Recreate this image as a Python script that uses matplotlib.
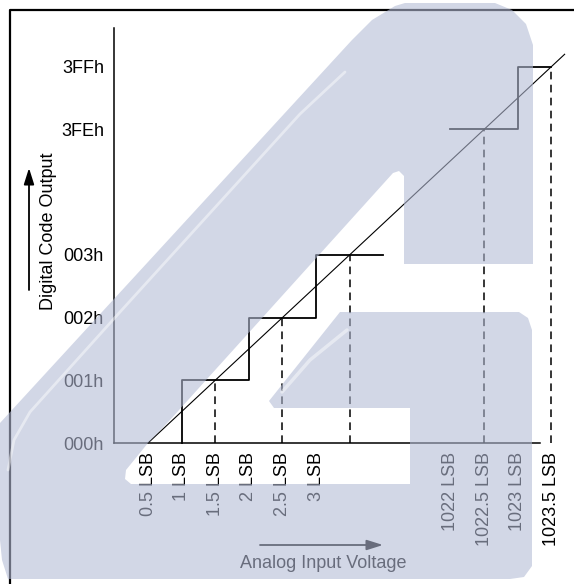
import matplotlib
matplotlib.use("Agg")
from matplotlib import pyplot as plt
from matplotlib.patches import Polygon
import numpy as np

plt.rcParams['font.family'] = ['Liberation Sans', 'DejaVu Sans']
plt.rcParams['font.size'] = 13

# transfer function data (LSB in, code out)
low_step_x = [1, 1, 2, 2, 3, 3, 4]
low_step_y = [0, 1, 1, 2, 2, 3, 3]
high_step_x = [1022, 1023, 1023, 1023.5]
high_step_y = [1022, 1022, 1023, 1023]
ideal_x = [0.5, 1023.7]
ideal_y = [0, 1023.2]
mid_x = [1.5, 2.5, 3.5, 1022.5, 1023.5]
mid_y = [1, 2, 3, 1022, 1023]
xticks = [0.5, 1, 1.5, 2, 2.5, 3, 1022, 1022.5, 1023, 1023.5]
yticks = [0, 1, 2, 3, 1022, 1023]

BREAK = 1017  # axis is broken between code 3 and 3FEh


def disp(v):
    v = np.asarray(v, dtype=float)
    return np.where(v > 100, v - BREAK, v)


def fmt_lsb(v):
    return ('%g' % v) + ' LSB'


W, H = 574, 584
fig = plt.figure(figsize=(W / 100, H / 100), dpi=100)


def fx(px): return px / W
def fy(py): return 1 - py / H


X0, Y0, SX, SY = 114.4, 443, 67.2, 62.7   # px origin and px per unit
XR = 572                                    # axes right edge (px)
ax = fig.add_axes([fx(X0), fy(Y0), (XR - X0) / W, (Y0 - 28) / H])
for s in ['top', 'right']:
    ax.spines[s].set_visible(False)
for s in ['left', 'bottom']:
    ax.spines[s].set_linewidth(1.1)

ax.set_xticks(disp(xticks))
ax.set_xticklabels([fmt_lsb(v) for v in xticks], rotation=90)
ax.set_yticks(disp(yticks))
ax.set_yticklabels(['%03Xh' % v for v in yticks])
ax.tick_params(axis='x', length=0, pad=6.5)
ax.tick_params(axis='y', length=0, pad=7.5)

kw = dict(color='black', clip_on=False)
ax.plot(disp(low_step_x), disp(low_step_y), lw=1.3, **kw)
ax.plot(disp(high_step_x), disp(high_step_y), lw=1.3, **kw)
ax.plot(disp(ideal_x), disp(ideal_y), lw=0.8, **kw)
for x, y in zip(mid_x, mid_y):
    ax.plot([disp(x), disp(x)], [0, disp(y)], lw=1.1,
            linestyle=(0, (5, 3.5)), **kw)
ax.set_xlim(0, (XR - X0) / SX)
ax.set_ylim(0, (Y0 - 28) / SY)
ax.spines['bottom'].set_bounds(0, (540 - X0) / SX)

ax.set_ylabel('Digital Code Output')
ax.yaxis.set_label_coords((48 - X0) / (XR - X0), (Y0 - 231) / (Y0 - 28))
ax.set_xlabel('Analog Input Voltage')
ax.xaxis.set_label_coords((323 - X0) / (XR - X0), -(563 - Y0) / (Y0 - 28))
ax.xaxis.label.set_va('center')
ax.yaxis.label.set_va('center')

arrow = dict(arrowstyle='-|>,head_length=0.7,head_width=0.22', lw=1.3,
             color='black', mutation_scale=14, shrinkA=0, shrinkB=0)
ax.annotate('', xy=(fx(29), fy(168)), xytext=(fx(29), fy(290)),
            xycoords='figure fraction', arrowprops=arrow)
ax.annotate('', xy=(fx(383), fy(545)), xytext=(fx(260), fy(545)),
            xycoords='figure fraction', arrowprops=arrow)

# page frame + watermark overlay
ov = fig.add_axes([0, 0, 1, 1], zorder=10)
ov.set_xlim(0, W)
ov.set_ylim(H, 0)
ov.axis('off')
ov.patch.set_alpha(0)
ov.plot([10, 10, W], [H, 10, 10], color='black', lw=1.6, zorder=1)

wm = [(0, 423), (352, 40), (372, 20), (395, 6), (405, 3), (495, 3),
      (512, 10), (526, 24), (533, 45), (533, 264), (404, 264), (404, 176),
      (399, 171), (393, 173), (170, 420), (148, 443), (126, 470), (125, 479),
      (131, 484), (410, 484), (410, 408), (274, 408), (269, 401), (340, 312),
      (519, 312), (528, 318), (532, 330), (532, 566), (524, 577), (510, 579),
      (8, 579), (2, 560), (0, 540)]
ov.add_patch(Polygon(wm, closed=True, facecolor='#b3bbd5', edgecolor='none',
                     alpha=0.59, zorder=2))
# glossy streaks on the watermark
ov.plot([8, 14, 30, 120, 300, 345], [470, 440, 412, 312, 114, 72],
        color='white', lw=2, alpha=0.45, zorder=3, solid_capstyle='round')
ov.plot([282, 310, 347], [392, 360, 330],
        color='white', lw=2.5, alpha=0.45, zorder=3, solid_capstyle='round')

fig.savefig('out.png', dpi=100)
